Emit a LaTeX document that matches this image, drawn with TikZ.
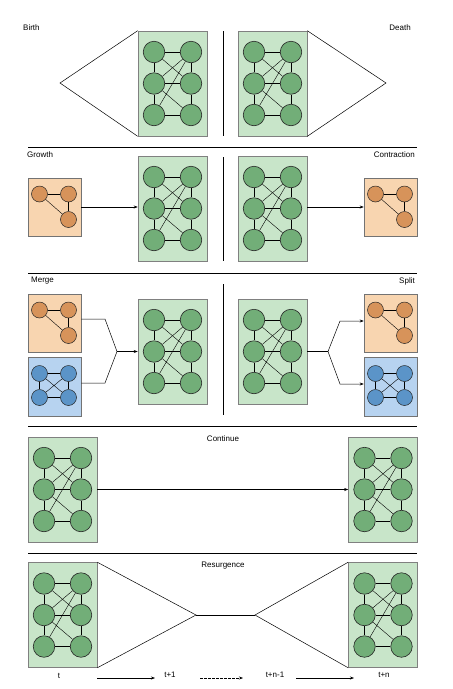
\documentclass[tikz,border=0pt]{standalone}
\usepackage{fontspec}
\setmainfont{Liberation Sans}
\usetikzlibrary{arrows.meta}

\definecolor{boxgreen}{HTML}{C8E5C9}
\definecolor{nodegreen}{HTML}{72AE78}
\definecolor{boxorange}{HTML}{F8D5B0}
\definecolor{nodeorange}{HTML}{D7935A}
\definecolor{boxblue}{HTML}{B7D3F0}
\definecolor{nodeblue}{HTML}{5B94C8}

\tikzset{
  gbox/.style={draw=black!50, fill=boxgreen, line width=0.6pt,
    minimum width=69pt, minimum height=105pt, inner sep=0pt},
  obox/.style={draw=black!55, fill=boxorange, line width=0.6pt,
    minimum width=53pt, minimum height=58pt, inner sep=0pt},
  bbox/.style={draw=black!55, fill=boxblue, line width=0.6pt,
    minimum width=53pt, minimum height=59pt, inner sep=0pt},
  gnode/.style={circle, draw=black!85, fill=nodegreen, line width=0.6pt,
    minimum size=21.5pt, inner sep=0pt},
  onode/.style={circle, draw=black!85, fill=nodeorange, line width=0.5pt,
    minimum size=16pt, inner sep=0pt},
  bnode/.style={circle, draw=black!85, fill=nodeblue, line width=0.5pt,
    minimum size=16pt, inner sep=0pt},
  edge/.style={line width=0.7pt},
  thinedge/.style={line width=0.4pt},
  conn/.style={line width=0.5pt},
  arr/.style={line width=0.5pt, -{Stealth[length=4pt,width=3pt]}},
  sep/.style={line width=0.8pt},
  divider/.style={line width=0.9pt},
  lbl/.style={font=\fontsize{8}{9.6}\selectfont, inner sep=0pt},
}

% six-node green network, box centred at (#2,#3)
\newcommand\greennet[3]{%
  \node[gbox] (#1box) at (#2,#3) {};
  \begin{scope}[shift={(#2,#3)}]
    \node[gnode] (#1a) at (-18.5,-31.5) {};
    \node[gnode] (#1b) at (18.5,-31.5) {};
    \node[gnode] (#1c) at (-18.5,0) {};
    \node[gnode] (#1d) at (18.5,0) {};
    \node[gnode] (#1e) at (-18.5,31.5) {};
    \node[gnode] (#1f) at (18.5,31.5) {};
  \end{scope}
  \draw[edge] (#1a) -- (#1b) (#1c) -- (#1d) (#1e) -- (#1f)
              (#1a) -- (#1c) (#1c) -- (#1e) (#1b) -- (#1d) (#1d) -- (#1f);
  \draw[thinedge] (#1a) -- (#1d) (#1c) -- (#1b) (#1e) -- (#1b) (#1c) -- (#1f);
}

% three-node orange network
\newcommand\orangenet[3]{%
  \node[obox] (#1box) at (#2,#3) {};
  \begin{scope}[shift={(#2,#3)}]
    \node[onode] (#1a) at (-15,-13) {};
    \node[onode] (#1b) at (14,-13) {};
    \node[onode] (#1c) at (14,12.5) {};
  \end{scope}
  \draw[edge] (#1a) -- (#1b) (#1b) -- (#1c);
  \draw[thinedge] (#1a) -- (#1c);
}

% four-node blue network
\newcommand\bluenet[3]{%
  \node[bbox] (#1box) at (#2,#3) {};
  \begin{scope}[shift={(#2,#3)}]
    \node[bnode] (#1a) at (-15,-13) {};
    \node[bnode] (#1b) at (14,-13) {};
    \node[bnode] (#1c) at (-15,11) {};
    \node[bnode] (#1d) at (14,11) {};
  \end{scope}
  \draw[edge] (#1a) -- (#1b) (#1c) -- (#1d) (#1a) -- (#1c) (#1b) -- (#1d);
  \draw[thinedge] (#1a) -- (#1d) (#1b) -- (#1c);
}

\begin{document}
\begin{tikzpicture}[x=1pt, y=-1pt]
\useasboundingbox (0,0) rectangle (453,689);

% ---------- Birth / Death ----------
\node[lbl, anchor=west] (birth) at (23,28) {Birth};
\node[lbl, anchor=east] (death) at (411,28) {Death};
\greennet{p}{172.5}{83.5}
\greennet{q}{272.5}{83.5}
\coordinate (birthapex) at (60,83);
\coordinate (deathapex) at (386,83);
\draw[conn] (pbox.north west) -- (birthapex) -- (pbox.south west);
\draw[conn] (qbox.north east) -- (deathapex) -- (qbox.south east);
\coordinate (d1t) at (223,31);
\coordinate (d1b) at (223,136);
\draw[divider] (d1t) -- (d1b);
\coordinate (s1l) at (28,147);
\coordinate (s1r) at (417,147);
\draw[sep] (s1l) -- (s1r);

% ---------- Growth / Contraction ----------
\node[lbl, anchor=west] (growth) at (27,155) {Growth};
\node[lbl, anchor=east] (contraction) at (415,155) {Contraction};
\orangenet{go}{54.5}{207}
\greennet{g}{172.5}{208.5}
\greennet{h}{272.5}{208.5}
\orangenet{co}{390.5}{207}
\draw[arr] (gobox.east) -- (gobox.east -| gbox.west);
\draw[arr] (hbox.east |- cobox.west) -- (cobox.west);
\coordinate (d2t) at (223,157);
\coordinate (d2b) at (223,261);
\draw[divider] (d2t) -- (d2b);
\coordinate (s2l) at (28,273);
\coordinate (s2r) at (417,273);
\draw[sep] (s2l) -- (s2r);

% ---------- Merge / Split ----------
\node[lbl, anchor=west] (merge) at (31,281) {Merge};
\node[lbl, anchor=east] (split) at (415,281) {Split};
\orangenet{mo}{54.5}{323}
\bluenet{mb}{54.5}{386.5}
\greennet{m}{172.5}{351.5}
\greennet{n}{272.5}{351.5}
\orangenet{so}{390.5}{323}
\bluenet{sb}{390.5}{386.5}
\coordinate (mjoin) at (117,351.5);
\coordinate (mk1) at (105,319);
\coordinate (mk2) at (105,383);
\draw[conn] (mobox.east |- mk1) -- (mk1) -- (mjoin);
\draw[conn] (mbbox.east |- mk2) -- (mk2) -- (mjoin);
\draw[arr] (mjoin) -- (mbox.west);
\coordinate (sjoin) at (328,351.5);
\coordinate (sk1) at (340,321);
\coordinate (sk2) at (340,384);
\draw[conn] (nbox.east) -- (sjoin);
\draw[arr] (sjoin) -- (sk1) -- (sobox.west |- sk1);
\draw[arr] (sjoin) -- (sk2) -- (sbbox.west |- sk2);
\coordinate (d3t) at (223,284);
\coordinate (d3b) at (223,415);
\draw[divider] (d3t) -- (d3b);
\coordinate (s3l) at (28,426);
\coordinate (s3r) at (417,426);
\draw[sep] (s3l) -- (s3r);

% ---------- Continue ----------
\node[lbl] (continue) at (223,439) {Continue};
\greennet{c}{62.5}{489.5}
\greennet{e}{383}{489.5}
\draw[arr] (cbox.east) -- (ebox.west);
\coordinate (s4l) at (28,553);
\coordinate (s4r) at (417,553);
\draw[sep] (s4l) -- (s4r);

% ---------- Resurgence ----------
\node[lbl] (resurgence) at (223,566) {Resurgence};
\greennet{r}{62.5}{615}
\greennet{u}{383}{615}
\coordinate (rl) at (196,615);
\coordinate (rr) at (255,615);
\draw[conn] (rbox.north east) -- (rl) -- (rbox.south east);
\draw[conn] (rl) -- (rr);
\draw[conn] (ubox.north west) -- (rr) -- (ubox.south west);

% time axis
\node[lbl] (t0) at (59,676) {t};
\node[lbl] (t1) at (170,675) {t+1};
\node[lbl] (t2) at (275,675) {t+n-1};
\node[lbl] (t3) at (384,675) {t+n};
\coordinate (a1s) at (97,678);
\coordinate (a1e) at (155,678);
\coordinate (a2s) at (200,678);
\coordinate (a2e) at (243,678);
\coordinate (a3s) at (296,678);
\coordinate (a3e) at (354,678);
\draw[arr] (a1s) -- (a1e);
\draw[arr, dashed, dash pattern=on 2.5pt off 1.5pt] (a2s) -- (a2e);
\draw[arr] (a3s) -- (a3e);
\end{tikzpicture}
\end{document}
